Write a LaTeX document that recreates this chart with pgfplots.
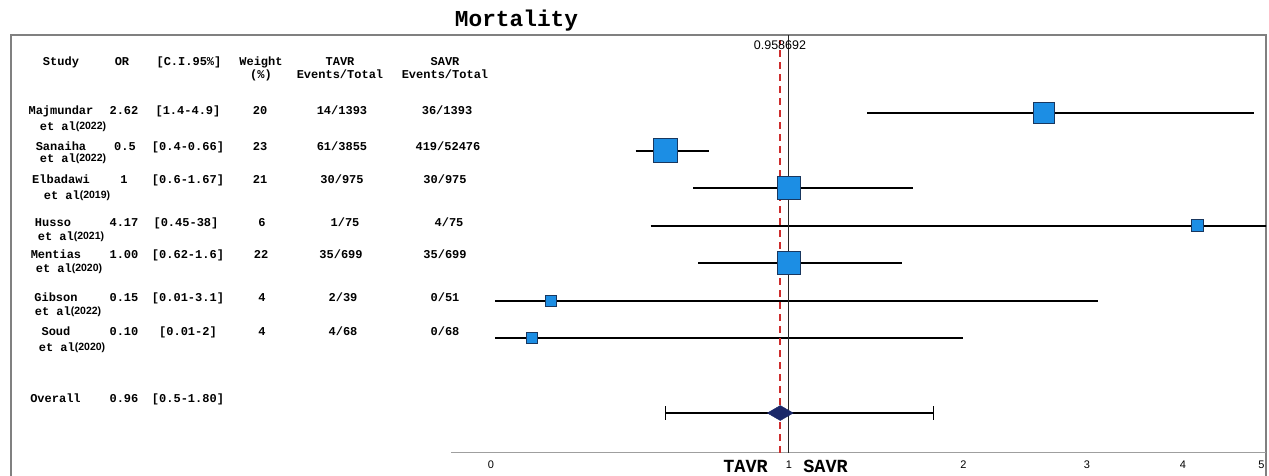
\documentclass[border=0pt]{standalone}
\usepackage{pgfplots}
\pgfplotsset{compat=1.18}
\usepackage{fontspec}
\setmainfont{Liberation Sans}
\newfontfamily\mono{Liberation Mono}
\newfontfamily\sans{Liberation Sans}
\definecolor{sqfill}{RGB}{28,142,228}
\definecolor{sqdraw}{RGB}{25,55,95}
\definecolor{dmd}{RGB}{27,40,105}
\definecolor{framec}{RGB}{128,128,128}
\definecolor{reddash}{RGB}{205,45,45}
\newcommand\tb[3]{\node[font=\mono\bfseries\fontsize{12}{12}\selectfont,inner sep=0pt,anchor=base] at (#1pt,-#2pt) {#3};}
\newcommand\ea[3]{\node[inner sep=0pt,anchor=base] at (#1pt,-#2pt) {{\mono\bfseries\fontsize{12}{12}\selectfont et al}\raisebox{1pt}{\sans\bfseries\fontsize{10.5}{10.5}\selectfont(#3)}};}
\begin{document}
\begin{tikzpicture}
\useasboundingbox (0pt,0pt) rectangle (1269pt,-475pt);
% frame
\draw[framec, line width=2.5pt] (11pt,-476pt) -- (11pt,-35pt) -- (1266pt,-35pt) -- (1266pt,-476pt);
% title
\node[font=\mono\bfseries\fontsize{22.8}{22.8}\selectfont, anchor=base, inner sep=0pt] at (516.5pt,-26.7pt) {Mortality};
% header
\tb{61}{65.5}{Study}
\tb{122}{65.5}{OR}
\tb{189}{65.5}{[C.I.95\%]}
\tb{261}{65.5}{Weight}
\tb{261}{78.5}{(\%)}
\tb{340}{65.5}{TAVR}
\tb{340}{78.5}{Events/Total}
\tb{445}{65.5}{SAVR}
\tb{445}{78.5}{Events/Total}
% rows
\tb{61}{114.5}{Majmundar}\ea{73}{130.5}{2022}
\tb{124}{114.5}{2.62}\tb{188}{114.5}{[1.4-4.9]}\tb{260}{114.5}{20}\tb{342}{114.5}{14/1393}\tb{447}{114.5}{36/1393}
\tb{61}{150.5}{Sanaiha}\ea{73}{162.5}{2022}
\tb{125}{150.5}{0.5}\tb{188}{150.5}{[0.4-0.66]}\tb{260}{150.5}{23}\tb{342}{150.5}{61/3855}\tb{448}{150.5}{419/52476}
\tb{61}{183.5}{Elbadawi}\ea{77}{199.5}{2019}
\tb{124}{183.5}{1}\tb{188}{183.5}{[0.6-1.67]}\tb{260}{183.5}{21}\tb{342}{183.5}{30/975}\tb{445}{183.5}{30/975}
\tb{53}{226.5}{Husso}\ea{71}{240.5}{2021}
\tb{124}{226.5}{4.17}\tb{186}{226.5}{[0.45-38]}\tb{262}{226.5}{6}\tb{345}{226.5}{1/75}\tb{449}{226.5}{4/75}
\tb{56}{258.5}{Mentias}\ea{69}{272.5}{2020}
\tb{124}{258.5}{1.00}\tb{188}{258.5}{[0.62-1.6]}\tb{261}{258.5}{22}\tb{341}{258.5}{35/699}\tb{445}{258.5}{35/699}
\tb{56}{301.5}{Gibson}\ea{68}{315.5}{2022}
\tb{124}{301.5}{0.15}\tb{188}{301.5}{[0.01-3.1]}\tb{262}{301.5}{4}\tb{343}{301.5}{2/39}\tb{445}{301.5}{0/51}
\tb{56}{335.5}{Soud}\ea{72}{351.5}{2020}
\tb{124}{335.5}{0.10}\tb{188}{335.5}{[0.01-2]}\tb{262}{335.5}{4}\tb{343}{335.5}{4/68}\tb{445}{335.5}{0/68}
\tb{55.5}{402.5}{Overall}\tb{124}{402.5}{0.96}\tb{188}{402.5}{[0.5-1.80]}
% TAVR / SAVR
\node[font=\mono\bfseries\fontsize{18.5}{18.5}\selectfont, anchor=base, inner sep=0pt] at (745.5pt,-472.5pt) {TAVR};
\node[font=\mono\bfseries\fontsize{18.5}{18.5}\selectfont, anchor=base, inner sep=0pt] at (825.5pt,-472.5pt) {SAVR};
\begin{axis}[
  at={(451pt,-452.5pt)}, anchor=south west,
  scale only axis, width=815pt, height=417.5pt,
  x coord trafo/.code={\pgfmathparse{ln(1+#1)/ln(2)}},
  x coord inv trafo/.code={\pgfmathparse{2^(#1)-1}},
  xmin=-0.0888, xmax=5.066, ymin=-2.053, ymax=9.08,
  axis x line=bottom, axis y line=none,
  x axis line style={-, color=gray!75, line width=1.2pt},
  xtick={0,1,2,3,4,5}, xticklabels={0,1,2,3,4,5},
  major tick length=0pt,
  xticklabel style={font=\fontsize{11}{11}\selectfont, anchor=center, yshift=-12.5pt},
  ytick=\empty,
  /pgf/number format/assume math mode=true,
]
% squares (weight-scaled)
\addplot[only marks, mark=square*, mark size=10.8pt, mark options={fill=sqfill, draw=sqdraw, line width=0.8pt}] coordinates {(2.62,7)};
\addplot[only marks, mark=square*, mark size=12pt, mark options={fill=sqfill, draw=sqdraw, line width=0.8pt}] coordinates {(0.5,6)};
\addplot[only marks, mark=square*, mark size=11.5pt, mark options={fill=sqfill, draw=sqdraw, line width=0.8pt}] coordinates {(1,5)};
\addplot[only marks, mark=square*, mark size=6pt, mark options={fill=sqfill, draw=sqdraw, line width=0.8pt}] coordinates {(4.17,4)};
\addplot[only marks, mark=square*, mark size=11.5pt, mark options={fill=sqfill, draw=sqdraw, line width=0.8pt}] coordinates {(1.00,3)};
\addplot[only marks, mark=square*, mark size=5.4pt, mark options={fill=sqfill, draw=sqdraw, line width=0.8pt}] coordinates {(0.15,2)};
\addplot[only marks, mark=square*, mark size=5.4pt, mark options={fill=sqfill, draw=sqdraw, line width=0.8pt}] coordinates {(0.10,1)};
% confidence intervals
\addplot[black, line width=2pt] coordinates {(1.4,7) (4.9,7)};
\addplot[black, line width=2pt] coordinates {(0.4,6) (0.66,6)};
\addplot[black, line width=2pt] coordinates {(0.6,5) (1.67,5)};
\addplot[black, line width=2pt] coordinates {(0.45,4) (38,4)};
\addplot[black, line width=2pt] coordinates {(0.62,3) (1.6,3)};
\addplot[black, line width=2pt] coordinates {(0.01,2) (3.1,2)};
\addplot[black, line width=2pt] coordinates {(0.01,1) (2,1)};
% overall
\addplot[only marks, mark=diamond*, mark size=7.5pt, mark options={fill=dmd, draw=dmd, xscale=2.3}] coordinates {(0.96,-1)};
\addplot[black, line width=1.2pt, mark=|, mark size=7pt, mark options={line width=1.2pt}] coordinates {(0.5,-1) (1.8,-1)};
% reference lines
\addplot[black!85, line width=1pt] coordinates {(1,-2.053) (1,9.08)};
\addplot[reddash, dash pattern=on 7pt off 5pt, line width=1.1pt] coordinates {(0.958692,-2.053) (0.958692,8.95)};
\node[font=\fontsize{12.5}{12.5}\selectfont, inner sep=0pt] at (axis cs:0.958692,8.81) {0.958692};
\end{axis}
\end{tikzpicture}
\end{document}
